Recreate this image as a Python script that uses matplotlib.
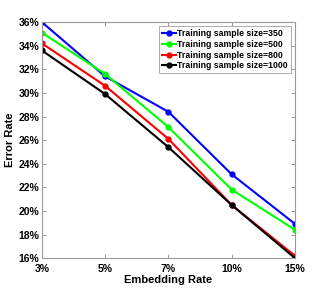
import matplotlib
matplotlib.use('Agg')
import matplotlib.pyplot as plt

# embedding rates (categorical x)
rates = ['3%', '5%', '7%', '10%', '15%']
err_350 = [36.0, 31.4, 28.4, 23.1, 18.9]
err_500 = [35.1, 31.6, 27.1, 21.8, 18.4]
err_800 = [34.2, 30.6, 26.1, 20.5, 16.2]
err_1000 = [33.6, 29.9, 25.4, 20.5, 16.0]
y_ticks = [16, 18, 20, 22, 24, 26, 28, 30, 32, 34, 36]

plt.rcParams['font.family'] = ['Liberation Sans', 'DejaVu Sans']
plt.rcParams['font.weight'] = 'bold'

fig = plt.figure(figsize=(3.27, 2.91), dpi=100)
ax = fig.add_axes([0.128, 0.113, 0.774, 0.811])

x = range(len(rates))
ax.plot(x, err_350, '-o', color='blue', lw=1.5, ms=3.5, label='Training sample size=350')
ax.plot(x, err_500, '-o', color='#00ff00', lw=1.5, ms=3.5, label='Training sample size=500')
ax.plot(x, err_800, '-o', color='red', lw=1.5, ms=3.5, label='Training sample size=800')
ax.plot(x, err_1000, '-o', color='black', lw=1.5, ms=3.5, label='Training sample size=1000')

ax.set_xlim(0, len(rates) - 1)
ax.set_ylim(16, 36)
ax.set_xticks(list(x))
ax.set_xticklabels(rates)
ax.set_yticks(y_ticks)
ax.set_yticklabels([f'{v}%' for v in y_ticks])
ax.tick_params(direction='in', length=3, width=0.6, labelsize=7.5, color='#888888',
               top=True, right=True)
ax.tick_params(axis='x', pad=4)
ax.tick_params(axis='y', pad=2)
for s in ax.spines.values():
    s.set_color('#999999')
    s.set_linewidth(0.8)

ax.set_xlabel('Embedding Rate', fontsize=8, fontweight='bold', labelpad=1)
ax.set_ylabel('Error Rate', fontsize=8, fontweight='bold', labelpad=2)

leg = ax.legend(loc='upper right', fontsize=6.3, frameon=True, fancybox=False,
                handlelength=1.6, handletextpad=0.2, borderpad=0.3, labelspacing=0.2,
                borderaxespad=0.5)
leg.get_frame().set_edgecolor('#888888')
leg.get_frame().set_linewidth(0.6)

plt.savefig('out.png', dpi=100)
